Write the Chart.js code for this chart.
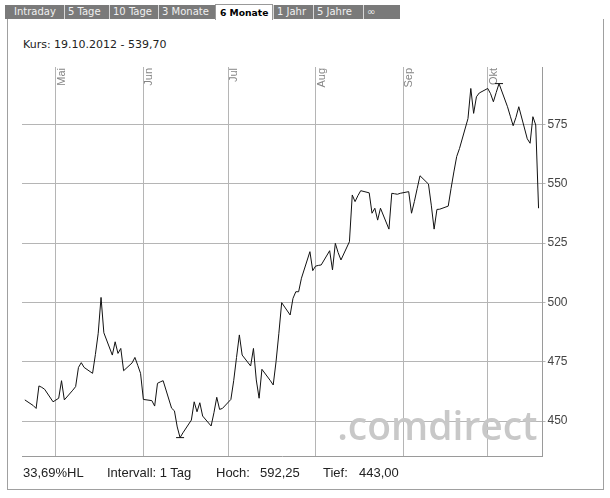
<!DOCTYPE html>
<html>
<head>
<meta charset="utf-8">
<script src="https://cdn.jsdelivr.net/npm/chart.js@4.4.1/dist/chart.umd.min.js"></script>
<style>
  html, body { margin:0; padding:0; background:#fff; }
  body { width:610px; height:498px; position:relative; overflow:hidden; }
  #frame { position:absolute; left:7px; top:19px; width:595px; height:470px;
           border-left:1px solid #a0a0a0; border-right:1px solid #a0a0a0; border-bottom:1px solid #a0a0a0; }
  #tabbar { position:absolute; left:5px; top:5px; width:395px; height:14px; background:#7a7a7a; }
  .tab { position:absolute; top:5px; height:14px; background:#7a7a7a; color:#f0f0f0;
         font:10px "DejaVu Sans", Verdana, sans-serif; line-height:14px; padding-left:3px; box-sizing:border-box; white-space:nowrap;
         border-left:1px solid #d8d8d8; }
  .tab.first { border-left:none; padding-left:9px; }
  .tab.active { background:#fff; color:#000; font-weight:bold; font-size:9.2px; top:4px; height:16px; line-height:16px;
                border:1px solid #999; border-bottom:none; padding-left:4px; }
  #kurs { position:absolute; left:23px; top:38px; font:11px "DejaVu Sans", Verdana, sans-serif; line-height:13px; color:#222; white-space:nowrap; }
  #footer span { position:absolute; top:465px; font:13px "Liberation Sans", Arial, sans-serif; line-height:15px; color:#222; white-space:nowrap; }
  canvas { position:absolute; left:0; top:0; }
</style>
</head>
<body>
<div id="frame"></div>
<div id="tabbar"></div>
<div id="tabs"></div>
<div id="kurs"></div>
<canvas id="c" width="610" height="498"></canvas>
<div id="footer"></div>
<script>
// ---- data ----
const tabLabels = ["Intraday", "5 Tage", "10 Tage", "3 Monate", "6 Monate", "1 Jahr", "5 Jahre", "\u221E"];
const activeTab = "6 Monate";
const headerText = "Kurs: 19.10.2012 - 539,70";

const dates = [
  "2012-04-20","2012-04-23","2012-04-24","2012-04-25","2012-04-26","2012-04-27","2012-04-30",
  "2012-05-02","2012-05-03","2012-05-04","2012-05-07","2012-05-08","2012-05-09","2012-05-10","2012-05-11",
  "2012-05-14","2012-05-15","2012-05-16","2012-05-17","2012-05-18","2012-05-21","2012-05-22","2012-05-23",
  "2012-05-24","2012-05-25","2012-05-28","2012-05-29","2012-05-30","2012-05-31",
  "2012-06-01","2012-06-04","2012-06-05","2012-06-06","2012-06-07","2012-06-08","2012-06-11","2012-06-12",
  "2012-06-13","2012-06-14","2012-06-15","2012-06-18","2012-06-19","2012-06-20","2012-06-21","2012-06-22",
  "2012-06-25","2012-06-26","2012-06-27","2012-06-28","2012-06-29",
  "2012-07-02","2012-07-03","2012-07-04","2012-07-05","2012-07-06","2012-07-09","2012-07-10","2012-07-11",
  "2012-07-12","2012-07-13","2012-07-16","2012-07-17","2012-07-18","2012-07-19","2012-07-20","2012-07-23",
  "2012-07-24","2012-07-25","2012-07-26","2012-07-27","2012-07-30","2012-07-31",
  "2012-08-01","2012-08-02","2012-08-03","2012-08-06","2012-08-07","2012-08-08","2012-08-09","2012-08-10",
  "2012-08-13","2012-08-14","2012-08-15","2012-08-16","2012-08-17","2012-08-20","2012-08-21","2012-08-22",
  "2012-08-23","2012-08-24","2012-08-27","2012-08-28","2012-08-29","2012-08-30","2012-08-31",
  "2012-09-03","2012-09-04","2012-09-05","2012-09-06","2012-09-07","2012-09-10","2012-09-11","2012-09-12",
  "2012-09-13","2012-09-14","2012-09-17","2012-09-18","2012-09-19","2012-09-20","2012-09-21","2012-09-24",
  "2012-09-25","2012-09-26","2012-09-27","2012-09-28",
  "2012-10-01","2012-10-02","2012-10-03","2012-10-04","2012-10-05","2012-10-08","2012-10-09","2012-10-10",
  "2012-10-11","2012-10-12","2012-10-15","2012-10-16","2012-10-17","2012-10-18","2012-10-19"
];
const prices = [
  458.9,456.5,455.3,464.8,464.2,463.4,458.1,
  459.6,467.0,458.9,463.0,464.5,472.6,474.6,472.6,
  470.1,478.0,487.0,502.1,487.2,477.8,483.4,478.5,
  480.6,471.2,474.5,476.8,473.5,470.1,
  459.1,458.6,456.3,465.9,466.5,467.0,455.4,454.3,
  447.5,443.0,445.0,450.4,458.1,453.9,457.7,452.1,
  447.9,453.5,460.0,454.9,455.3,
  459.1,467.0,476.8,486.3,477.8,473.2,480.6,467.3,
  459.6,471.8,467.0,465.2,475.0,487.0,499.9,494.7,
  501.7,504.5,504.5,510.2,521.4,513.4,
  515.3,515.6,515.8,521.8,513.7,524.9,521.0,517.9,
  525.6,545.3,542.5,545.0,547.1,546.2,537.6,539.7,
  534.7,539.7,530.9,546.0,545.8,545.6,546.0,
  546.7,537.6,542.5,548.0,553.4,549.9,541.0,530.9,
  539.2,539.3,540.6,548.0,555.0,561.5,564.9,577.5,
  590.2,579.7,586.7,588.3,
  590.2,588.0,584.6,588.5,592.25,582.5,578.5,574.5,
  578.0,582.5,569.0,567.1,578.3,574.8,539.7
];
const monthTickDates = ["2012-05-01","2012-06-01","2012-07-01","2012-08-01","2012-09-01","2012-10-01"];
const monthLabels = ["Mai","Jun","Jul","Aug","Sep","Okt"];
const yTickValues = [450, 475, 500, 525, 550, 575];
const highDate = "2012-10-05", highValue = 592.25;
const lowDate = "2012-06-14", lowValue = 443.00;
const footerItems = [["33,69%HL", 23], ["Intervall: 1 Tag", 107], ["Hoch:", 216], ["592,25", 260], ["Tief:", 323], ["443,00", 359]];
const watermark = ".comdirect";

// ---- page texts ----
const tabGeom = [[5,59],[64,45],[109,49],[158,57],[215,58],[273,40],[313,50],[363,37]];
const tabsDiv = document.getElementById('tabs');
tabLabels.forEach((t, i) => {
  const d = document.createElement('div');
  d.className = 'tab' + (i === 0 ? ' first' : '') + (t === activeTab ? ' active' : '');
  d.style.left = tabGeom[i][0] + 'px';
  d.style.width = tabGeom[i][1] + 'px';
  d.textContent = t;
  tabsDiv.appendChild(d);
});
document.getElementById('kurs').textContent = headerText;
const foot = document.getElementById('footer');
footerItems.forEach(([t, x]) => {
  const s = document.createElement('span');
  s.textContent = t; s.style.left = x + 'px';
  foot.appendChild(s);
});

// ---- chart ----
const day = s => Date.parse(s) / 86400000;
const lineData = dates.map((d, i) => ({ x: day(d), y: prices[i] }));

const overlayPlugin = {
  id: 'overlay',
  beforeDatasetsDraw(chart) {
    const { ctx, chartArea, scales } = chart;
    ctx.save();
    ctx.font = '600 39px "Open Sans", sans-serif';
    ctx.fillStyle = '#c8c8c8';
    ctx.textAlign = 'right';
    ctx.textBaseline = 'alphabetic';
    ctx.fillText(watermark, chartArea.right - 5, 440);
    ctx.restore();
    // month labels
    ctx.save();
    ctx.font = '11px "Liberation Sans", Arial, sans-serif';
    ctx.fillStyle = '#858585';
    monthTickDates.forEach((d, i) => {
      const x = scales.x.getPixelForValue(day(d));
      ctx.save();
      ctx.translate(x + 0.5, chartArea.top + 1);
      ctx.rotate(-Math.PI / 2);
      ctx.textAlign = 'right';
      ctx.textBaseline = 'top';
      ctx.fillText(monthLabels[i], 0, 0);
      ctx.restore();
    });
    ctx.restore();
  }
};

new Chart(document.getElementById('c'), {
  type: 'line',
  data: {
    datasets: [
      {
        data: lineData,
        borderColor: '#111',
        borderWidth: 1,
        pointRadius: 0,
        tension: 0,
        fill: false
      },
      {
        type: 'scatter',
        data: [{ x: day(highDate), y: highValue }, { x: day(lowDate), y: lowValue }],
        pointStyle: 'line',
        pointRadius: 4,
        borderColor: '#111',
        borderWidth: 1,
        showLine: false
      }
    ]
  },
  options: {
    responsive: false,
    devicePixelRatio: 1,
    animation: false,
    events: [],
    layout: { padding: { left: 22, top: 67, right: 22.5, bottom: 42 } },
    plugins: { legend: { display: false }, tooltip: { enabled: false } },
    scales: {
      x: {
        type: 'linear',
        min: day("2012-04-19"),
        max: day("2012-10-20") + 0.4,
        afterBuildTicks: s => { s.ticks = monthTickDates.map(d => ({ value: day(d) })); },
        afterFit: s => { s.height = 0; },
        ticks: { display: false },
        grid: { color: '#b5b5b5', lineWidth: 1, drawTicks: false },
        border: { color: '#9a9a9a' }
      },
      y: {
        position: 'right',
        min: 435.25,
        max: 599.25,
        afterBuildTicks: s => { s.ticks = yTickValues.map(v => ({ value: v })); },
        afterFit: s => { s.width = 45; },
        ticks: { color: '#444', font: { family: '"Liberation Sans", Arial, sans-serif', size: 12 }, padding: 2 },
        grid: { color: '#b5b5b5', lineWidth: 1, tickLength: 3 },
        border: { color: '#9a9a9a' }
      }
    }
  },
  plugins: [overlayPlugin]
});
</script>
</body>
</html>
